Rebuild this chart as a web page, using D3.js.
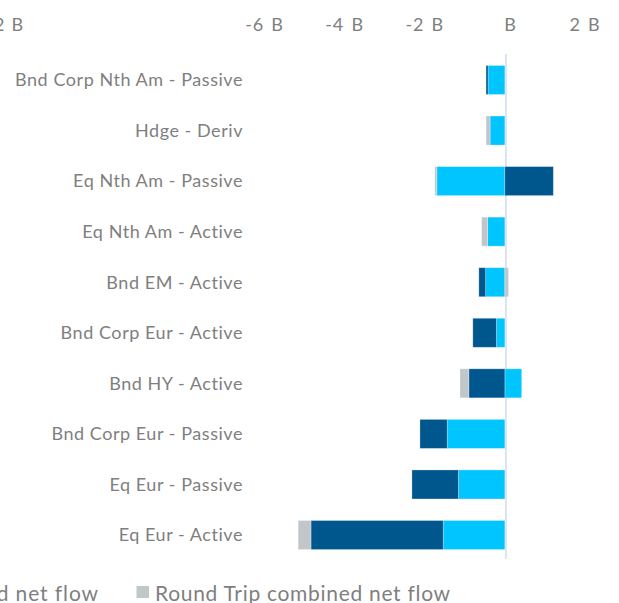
<!DOCTYPE html>
<html><head><meta charset="utf-8">
<script src="https://cdn.jsdelivr.net/npm/d3@7"></script>
<style>
html,body{margin:0;padding:0;background:#fff;overflow:hidden;}
text{font-family:Lato, "Open Sans", sans-serif;fill:#7f7f7f;}
</style></head><body>
<svg id="c" width="619" height="603"></svg>
<script>
const categories = ["Bnd Corp Nth Am - Passive","Hdge - Deriv","Eq Nth Am - Passive","Eq Nth Am - Active","Bnd EM - Active","Bnd Corp Eur - Active","Bnd HY - Active","Bnd Corp Eur - Passive","Eq Eur - Passive","Eq Eur - Active"];
const seriesNames = ["ETF net flow","Fund combined net flow","Round Trip combined net flow"];
const etfFlow   = [-0.42,-0.37,-1.70,-0.43,-0.48,-0.21, 0.42,-1.44,-1.16,-1.54];
const fundFlow  = [-0.05, 0.00, 1.21, 0.00,-0.17,-0.59,-0.90,-0.68,-1.16,-3.30];
const roundTrip = [ 0.00,-0.10,-0.05,-0.15, 0.09, 0.00,-0.22, 0.00, 0.00,-0.32];
const tickValues = [-6,-4,-2,0,2];
const tickLabels = ["-6 B","-4 B","-2 B","B","2 B"];
const colors = ["#00c5ff","#00578e","#c1c6ca"];

const svg = d3.select("#c");
const data = categories.map((c,i)=>({cat:c, s0:etfFlow[i], s1:fundFlow[i], s2:roundTrip[i]}));
const stack = d3.stack().keys(["s0","s1","s2"]).offset(d3.stackOffsetDiverging);
const series = stack(data);

const x = d3.scaleLinear().domain([-6,2]).range([264.5,585]);
const y = d3.scaleBand().domain(categories).range([54.7,560.3]).paddingInner(0.426).paddingOuter(0.213);

// zero line
svg.append("line").attr("x1",x(0)+1).attr("x2",x(0)+1).attr("y1",54).attr("y2",559)
  .attr("stroke","#d9e3f3").attr("stroke-width",2);

series.forEach((s,k)=>{
  svg.append("g").selectAll("rect").data(s).join("rect")
    .attr("x",d=>x(Math.min(d[0],d[1])))
    .attr("width",d=>Math.abs(x(d[1])-x(d[0])))
    .attr("y",d=>y(d.data.cat))
    .attr("height",y.bandwidth())
    .attr("fill",colors[k])
    .attr("stroke","#ffffff").attr("stroke-opacity",0.35).attr("stroke-width",0.8);
});

// top axis labels
svg.append("g").selectAll("text").data(tickValues).join("text")
  .attr("x",(d)=>x(d)+(d===0?5.5:0)).attr("y",31)
  .attr("text-anchor","middle").attr("font-size",18)
  .attr("letter-spacing",0.8).attr("word-spacing",2)
  .text((d,i)=>tickLabels[i]);
svg.append("text").attr("x",24).attr("y",31).attr("text-anchor","end").attr("font-size",18)
  .attr("letter-spacing",0.8).attr("word-spacing",1).text("-12 B");

// category labels
svg.append("g").selectAll("text").data(categories).join("text")
  .attr("x",243).attr("y",d=>y(d)+y.bandwidth()/2).attr("dy","0.35em")
  .attr("text-anchor","end").attr("font-size",18).attr("letter-spacing",0.55).text(d=>d);

// legend
const lg = svg.append("g");
lg.append("rect").attr("x",136.5).attr("y",586).attr("width",12.5).attr("height",12).attr("fill",colors[2]);
lg.append("text").attr("x",155).attr("y",601).attr("font-size",21).attr("letter-spacing",0.7).text(seriesNames[2]);
lg.append("text").attr("x",99).attr("y",601).attr("text-anchor","end").attr("font-size",21).attr("letter-spacing",0.9).text(seriesNames[1]);
</script></body></html>
